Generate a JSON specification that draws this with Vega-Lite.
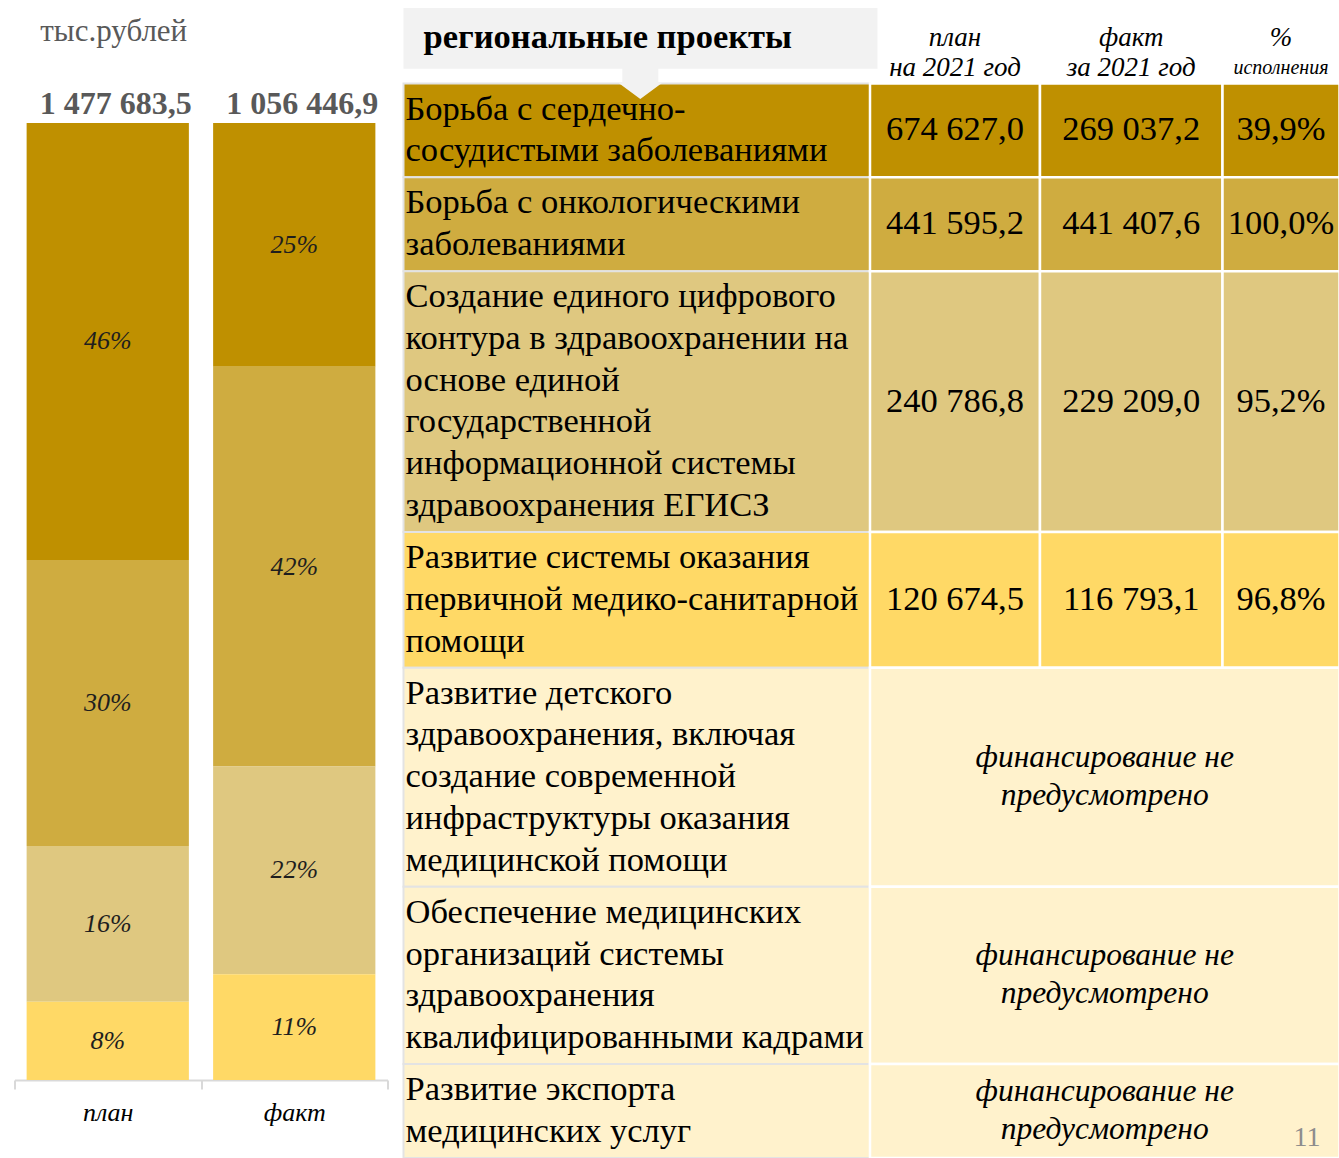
{
  "$schema": "https://vega.github.io/schema/vega-lite/v6.json",
  "padding": {"left": 13.5, "top": 0, "right": 0, "bottom": 0},
  "background": "white",
  "spacing": 14,
  "datasets": {
    "projects": [
      {"id": 1, "project": ["Борьба с сердечно-", "сосудистыми заболеваниями"], "plan": 674627.0, "fact": 269037.2, "pct": 0.3988},
      {"id": 2, "project": ["Борьба с онкологическими", "заболеваниями"], "plan": 441595.2, "fact": 441407.6, "pct": 0.9996},
      {"id": 3, "project": ["Создание единого цифрового", "контура в здравоохранении на", "основе единой", "государственной", "информационной системы", "здравоохранения ЕГИСЗ"], "plan": 240786.8, "fact": 229209.0, "pct": 0.9519},
      {"id": 4, "project": ["Развитие системы оказания", "первичной медико-санитарной", "помощи"], "plan": 120674.5, "fact": 116793.1, "pct": 0.9678},
      {"id": 5, "project": ["Развитие детского", "здравоохранения, включая", "создание современной", "инфраструктуры оказания", "медицинской помощи"], "plan": null, "fact": null, "pct": null},
      {"id": 6, "project": ["Обеспечение медицинских", "организаций системы", "здравоохранения", "квалифицированными кадрами"], "plan": null, "fact": null, "pct": null},
      {"id": 7, "project": ["Развитие экспорта", "медицинских услуг"], "plan": null, "fact": null, "pct": null}
    ],
    "columns": [
      {"col": "plan", "line1": "план", "line2": "на 2021 год"},
      {"col": "fact", "line1": "факт", "line2": "за 2021 год"},
      {"col": "pct", "line1": "%", "line2": "исполнения"}
    ]
  },
  "config": {
    "view": {"stroke": null},
    "font": "Liberation Serif",
    "mark": {"font": "Liberation Serif"},
    "text": {"font": "Liberation Serif"},
    "locale": {"number": {"decimal": ",", "thousands": " ", "grouping": [3], "currency": ["", " ₽"]}}
  },
  "hconcat": [
    {
      "width": 373,
      "height": 1158,
      "data": {"name": "projects"},
      "transform": [
        {"fold": ["plan", "fact"], "as": ["type", "value"]},
        {"filter": "isValid(datum.value)"},
        {"stack": "value", "groupby": ["type"], "sort": [{"field": "id", "order": "descending"}], "offset": "normalize", "as": ["v0", "v1"]},
        {"calculate": "(datum.v0 + datum.v1) / 2", "as": "mid"},
        {"calculate": "datum.v1 - datum.v0", "as": "share"}
      ],
      "encoding": {
        "x": {
          "field": "type", "type": "nominal", "sort": ["plan", "fact"],
          "scale": {"paddingInner": 0, "paddingOuter": 0},
          "axis": {
            "orient": "bottom", "offset": -78, "title": null,
            "domainColor": "#D9D9D9", "domainWidth": 2,
            "tickColor": "#D9D9D9", "tickWidth": 2, "tickSize": 9, "tickBand": "extent",
            "labelFont": "Liberation Serif", "labelFontStyle": "italic", "labelFontSize": 26,
            "labelColor": "#000000", "labelPadding": 10, "labelAngle": 0,
            "labelExpr": "datum.value === 'plan' ? 'план' : datum.value === 'fact' ? 'факт' : ''"
          }
        }
      },
      "layer": [
        {
          "mark": {"type": "bar", "width": {"band": 0.87}},
          "encoding": {
            "y": {"field": "v0", "type": "quantitative", "scale": {"domain": [-0.0815, 1.1285], "nice": false, "zero": false}, "axis": null},
            "y2": {"field": "v1"},
            "color": {
              "field": "id", "type": "nominal",
              "scale": {"domain": [1, 2, 3, 4, 5, 6, 7], "range": ["#BF9000", "#CFAC40", "#DFC880", "#FFD966", "#FFF2CC", "#FFF2CC", "#FFF2CC"]},
              "legend": null
            }
          }
        },
        {
          "mark": {"type": "text", "font": "Liberation Serif", "fontStyle": "italic", "fontSize": 26, "color": "#1E1E1E", "baseline": "middle"},
          "encoding": {
            "y": {"field": "mid", "type": "quantitative"},
            "text": {"field": "share", "type": "quantitative", "format": ".0%"}
          }
        },
        {
          "transform": [{"aggregate": [{"op": "sum", "field": "value", "as": "total"}], "groupby": ["type"]}],
          "mark": {"type": "text", "font": "Liberation Serif", "fontWeight": "bold", "fontSize": 32, "color": "#595959", "baseline": "alphabetic", "dy": -9, "dx": 8},
          "encoding": {
            "y": {"datum": 1, "type": "quantitative"},
            "text": {"field": "total", "type": "quantitative", "format": ",.1f"}
          }
        },
        {
          "transform": [{"filter": "datum.type === 'plan' && datum.id === 1"}],
          "mark": {"type": "text", "font": "Liberation Serif", "fontSize": 31, "color": "#595959", "baseline": "alphabetic", "dy": -82, "dx": 6, "text": "тыс.рублей"},
          "encoding": {
            "y": {"datum": 1, "type": "quantitative"}
          }
        }
      ]
    },
    {
      "width": 936,
      "height": 1158,
      "data": {"name": "projects"},
      "transform": [
        {"calculate": "length(datum.project)", "as": "n"},
        {"calculate": "datum.n + 0.25", "as": "h"},
        {"window": [{"op": "sum", "field": "h", "as": "cum"}], "sort": [{"field": "id", "order": "ascending"}], "frame": [null, 0]},
        {"calculate": "datum.cum - datum.h + 2", "as": "top"},
        {"calculate": "datum.cum + 2", "as": "bottom"},
        {"calculate": "(datum.top + datum.bottom) / 2", "as": "middle"},
        {"calculate": "datum.middle - (datum.n - 1) / 2", "as": "firstline"}
      ],
      "layer": [
        {
          "mark": {"type": "rect", "stroke": "#E3E3E3", "strokeWidth": 2},
          "encoding": {
            "x": {"datum": 0, "type": "quantitative", "scale": {"domain": [0, 100], "nice": false, "zero": false}, "axis": null},
            "x2": {"datum": 49.84},
            "y": {"field": "top", "type": "quantitative", "scale": {"nice": false, "zero": true, "reverse": true}, "axis": null},
            "y2": {"field": "bottom"},
            "color": {"field": "id", "type": "nominal", "scale": {"domain": [1, 2, 3, 4, 5, 6, 7], "range": ["#BF9000", "#CFAC40", "#DFC880", "#FFD966", "#FFF2CC", "#FFF2CC", "#FFF2CC"]}, "legend": null}
          }
        },
        {
          "transform": [{"filter": "isValid(datum.plan)"}],
          "mark": {"type": "rect", "stroke": "white", "strokeWidth": 2.5},
          "encoding": {
            "x": {"datum": 49.84, "type": "quantitative"},
            "x2": {"datum": 68.0},
            "y": {"field": "top", "type": "quantitative"},
            "y2": {"field": "bottom"},
            "color": {"field": "id", "type": "nominal", "legend": null}
          }
        },
        {
          "transform": [{"filter": "isValid(datum.plan)"}],
          "mark": {"type": "rect", "stroke": "white", "strokeWidth": 2.5},
          "encoding": {
            "x": {"datum": 68.0, "type": "quantitative"},
            "x2": {"datum": 87.5},
            "y": {"field": "top", "type": "quantitative"},
            "y2": {"field": "bottom"},
            "color": {"field": "id", "type": "nominal", "legend": null}
          }
        },
        {
          "transform": [{"filter": "isValid(datum.plan)"}],
          "mark": {"type": "rect", "stroke": "white", "strokeWidth": 2.5},
          "encoding": {
            "x": {"datum": 87.5, "type": "quantitative"},
            "x2": {"datum": 100},
            "y": {"field": "top", "type": "quantitative"},
            "y2": {"field": "bottom"},
            "color": {"field": "id", "type": "nominal", "legend": null}
          }
        },
        {
          "transform": [{"filter": "!isValid(datum.plan)"}],
          "mark": {"type": "rect", "stroke": "white", "strokeWidth": 2.5},
          "encoding": {
            "x": {"datum": 49.84, "type": "quantitative"},
            "x2": {"datum": 100},
            "y": {"field": "top", "type": "quantitative"},
            "y2": {"field": "bottom"},
            "color": {"field": "id", "type": "nominal", "legend": null}
          }
        },
        {
          "data": {"values": [{"title": "региональные проекты"}]},
          "mark": {"type": "rect", "color": "#F2F2F2"},
          "encoding": {
            "x": {"datum": 0, "type": "quantitative"},
            "x2": {"datum": 50.64},
            "y": {"datum": 0.19, "type": "quantitative"},
            "y2": {"datum": 1.65}
          }
        },
        {
          "data": {"values": [{"title": "региональные проекты"}]},
          "mark": {"type": "point", "shape": "M-0.75,-0.8L0.75,-0.8L0.75,-0.06L0.96,-0.06L0,0.65L-0.96,-0.06L-0.75,-0.06Z", "size": 2304, "filled": true, "color": "#F2F2F2", "opacity": 1, "strokeWidth": 0},
          "encoding": {
            "x": {"datum": 25.3, "type": "quantitative"},
            "y": {"datum": 2, "type": "quantitative"}
          }
        },
        {
          "data": {"values": [{"title": "региональные проекты"}]},
          "mark": {"type": "text", "font": "Liberation Serif", "fontWeight": "bold", "fontSize": 34.5, "color": "#000000", "align": "left", "baseline": "middle", "dx": 20},
          "encoding": {
            "x": {"datum": 0, "type": "quantitative"},
            "y": {"datum": 0.92, "type": "quantitative"},
            "text": {"field": "title"}
          }
        },
        {
          "data": {"name": "columns"},
          "transform": [{"calculate": "datum.col === 'plan' ? 58.92 : datum.col === 'fact' ? 77.75 : 93.75", "as": "cx"}],
          "mark": {"type": "text", "font": "Liberation Serif", "fontStyle": "italic", "fontSize": 27, "color": "#000000", "baseline": "middle"},
          "encoding": {
            "x": {"field": "cx", "type": "quantitative"},
            "y": {"datum": 0.91, "type": "quantitative"},
            "text": {"field": "line1"}
          }
        },
        {
          "data": {"name": "columns"},
          "transform": [{"calculate": "datum.col === 'plan' ? 58.92 : datum.col === 'fact' ? 77.75 : 93.75", "as": "cx"}],
          "mark": {"type": "text", "font": "Liberation Serif", "fontStyle": "italic", "color": "#000000", "baseline": "middle"},
          "encoding": {
            "x": {"field": "cx", "type": "quantitative"},
            "y": {"datum": 1.63, "type": "quantitative"},
            "text": {"field": "line2"},
            "size": {"condition": {"test": "datum.col === 'pct'", "value": 20}, "value": 27}
          }
        },
        {
          "mark": {"type": "text", "font": "Liberation Serif", "fontSize": 34.5, "color": "#000000", "align": "left", "baseline": "middle", "lineHeight": 41.7, "dx": 2},
          "encoding": {
            "x": {"datum": 0, "type": "quantitative"},
            "y": {"field": "firstline", "type": "quantitative"},
            "text": {"field": "project"}
          }
        },
        {
          "transform": [{"filter": "isValid(datum.plan)"}],
          "mark": {"type": "text", "font": "Liberation Serif", "fontSize": 34.5, "color": "#000000", "baseline": "middle"},
          "encoding": {
            "x": {"datum": 58.92, "type": "quantitative"},
            "y": {"field": "middle", "type": "quantitative"},
            "text": {"field": "plan", "type": "quantitative", "format": ",.1f"}
          }
        },
        {
          "transform": [{"filter": "isValid(datum.fact)"}],
          "mark": {"type": "text", "font": "Liberation Serif", "fontSize": 34.5, "color": "#000000", "baseline": "middle"},
          "encoding": {
            "x": {"datum": 77.75, "type": "quantitative"},
            "y": {"field": "middle", "type": "quantitative"},
            "text": {"field": "fact", "type": "quantitative", "format": ",.1f"}
          }
        },
        {
          "transform": [{"filter": "isValid(datum.pct)"}],
          "mark": {"type": "text", "font": "Liberation Serif", "fontSize": 34.5, "color": "#000000", "baseline": "middle"},
          "encoding": {
            "x": {"datum": 93.75, "type": "quantitative"},
            "y": {"field": "middle", "type": "quantitative"},
            "text": {"field": "pct", "type": "quantitative", "format": ".1%"}
          }
        },
        {
          "transform": [{"filter": "!isValid(datum.plan)"}],
          "mark": {"type": "text", "font": "Liberation Serif", "fontSize": 31.5, "fontStyle": "italic", "color": "#000000", "baseline": "middle", "lineHeight": 38, "dy": -19, "text": ["финансирование не", "предусмотрено"]},
          "encoding": {
            "x": {"datum": 74.92, "type": "quantitative"},
            "y": {"field": "middle", "type": "quantitative"}
          }
        },
        {
          "transform": [{"filter": "datum.id === 7"}],
          "mark": {"type": "text", "font": "Liberation Serif", "fontSize": 28, "color": "#8C8C8C", "align": "right", "baseline": "bottom", "dx": -19, "dy": -6, "text": "11"},
          "encoding": {
            "x": {"datum": 100, "type": "quantitative"},
            "y": {"field": "bottom", "type": "quantitative"}
          }
        }
      ]
    }
  ]
}
